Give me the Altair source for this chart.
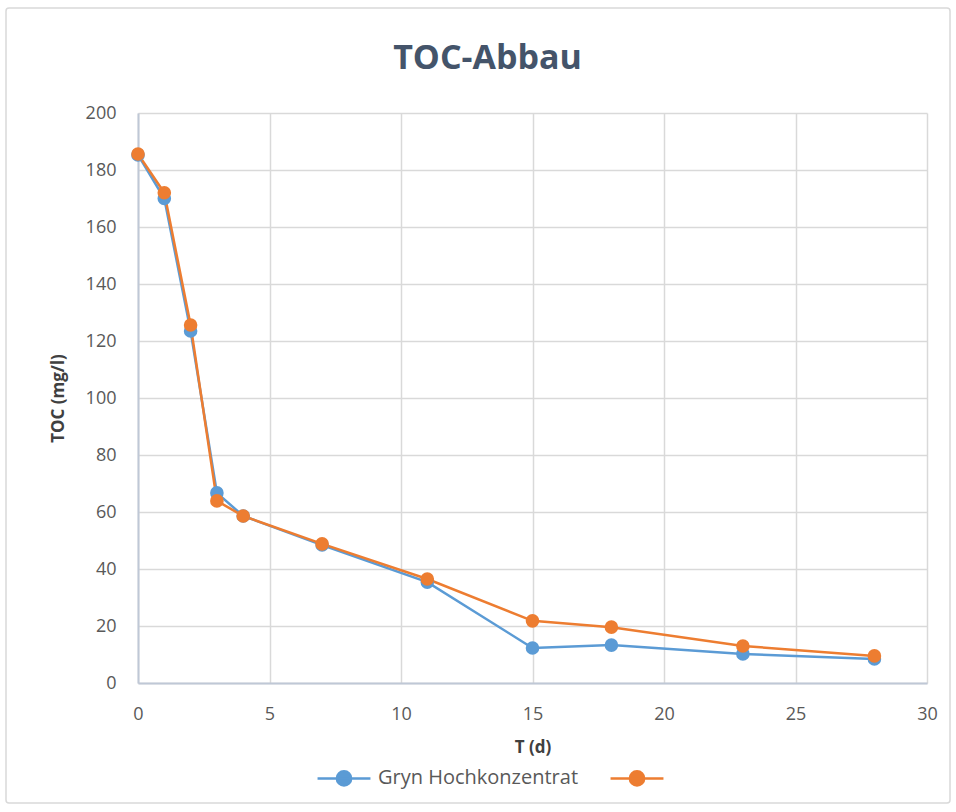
import altair as alt
import pandas as pd

days = [0, 1, 2, 3, 4, 7, 11, 15, 18, 23, 28]
series_names = ["Gryn Hochkonzentrat", "Reihe 2"]
blue_vals = [185.3, 170.0, 123.5, 66.7, 58.6, 48.4, 35.4, 12.3, 13.3, 10.2, 8.4]
orange_vals = [185.6, 172.0, 125.6, 63.9, 58.6, 48.8, 36.5, 21.8, 19.6, 13.0, 9.5]
colors = ["#5B9BD5", "#ED7D31"]

rows = []
for d, v in zip(days, blue_vals):
    rows.append({"T": d, "TOC": v, "Serie": series_names[0]})
for d, v in zip(days, orange_vals):
    rows.append({"T": d, "TOC": v, "Serie": series_names[1]})
df = pd.DataFrame(rows)

FONT = "Open Sans"
color_scale = alt.Scale(domain=series_names, range=colors)

legend = alt.Legend(
    title=None,
    orient="none",
    direction="horizontal",
    legendX=178,
    legendY=637,
    symbolType="M-1,0L1,0M-0.27,0A0.27,0.27 0 1,0 0.27,0A0.27,0.27 0 1,0 -0.27,0Z",
    symbolSize=2800,
    symbolStrokeWidth=2.5,
    symbolOpacity=1,
    labelFont=FONT,
    labelFontSize=20,
    labelColor="#595959",
    labelLimit=400,
    labelExpr="datum.label == 'Gryn Hochkonzentrat' ? datum.label : ''",
    columnPadding=26,
    labelOffset=6,
)

x_enc = alt.X("T:Q", title="T (d)",
              scale=alt.Scale(domain=[0, 30], nice=False),
              axis=alt.Axis(values=[0, 5, 10, 15, 20, 25, 30], titlePadding=16,
                            labelFlush=False, labelPadding=22))
y_enc = alt.Y("TOC:Q", title="TOC (mg/l)",
              scale=alt.Scale(domain=[0, 200], nice=False),
              axis=alt.Axis(values=list(range(0, 201, 20)), titlePadding=18,
                            labelPadding=22))

base = alt.Chart(df).encode(
    x=x_enc, y=y_enc,
    color=alt.Color("Serie:N", scale=color_scale, legend=legend),
    order=alt.Order("T:Q"),
)

lines = base.mark_line(strokeWidth=2.5)
points = base.mark_circle(size=185, opacity=1)

# light outer frame of the chart area
frame = alt.Chart(pd.DataFrame({"f": [0]})).mark_rect(
    fill=None, stroke="#D9D9D9", strokeWidth=1.5, cornerRadius=3
).encode(
    x=alt.value(-132), x2=alt.value(812),
    y=alt.value(-105), y2=alt.value(690),
)

chart = alt.layer(frame, lines, points).properties(
    width=789,
    height=570,
    autosize=alt.AutoSizeParams(type="none"),
    padding={"left": 138, "top": 113, "right": 29, "bottom": 129},
    title=alt.TitleParams(
        "TOC-Abbau", font=FONT, fontSize=34, fontWeight="bold",
        color="#44546A", anchor="middle", dx=-45, offset=-69,
    ),
).configure_view(stroke=None).configure_axis(
    labelFont=FONT, labelFontSize=18, labelColor="#595959",
    titleFont=FONT, titleFontSize=17, titleFontWeight="bold", titleColor="#404040",
    gridColor="#D9D9D9", gridWidth=1.5,
    domainColor="#BFC8D6", domainWidth=2,
    ticks=False,
)

chart.save("out.html", embed_options={"renderer": "svg", "actions": False})
